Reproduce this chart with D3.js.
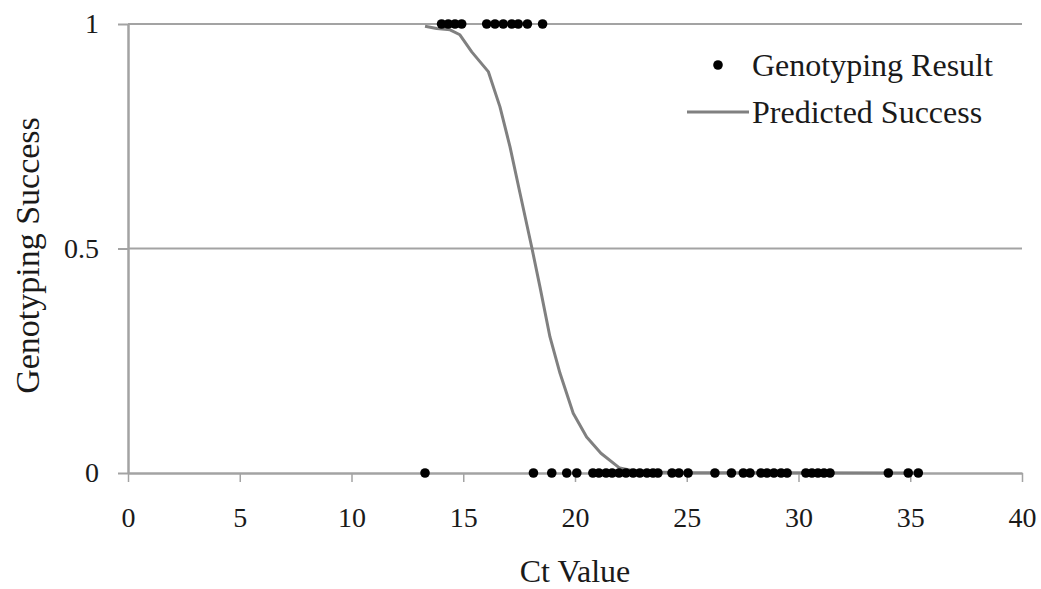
<!DOCTYPE html>
<html>
<head>
<meta charset="utf-8">
<script src="https://cdn.jsdelivr.net/npm/d3@7"></script>
<style>
  body { margin: 0; background: #fff; }
  text { font-family: "Liberation Serif", "Times New Roman", serif; fill: #1a1a1a; }
</style>
</head>
<body>
<div id="chart"></div>
<script>
// Ct values of samples that genotyped (result = 1)
const successCt = [14.03, 14.33, 14.63, 14.93, 16.05, 16.42, 16.79, 17.17, 17.46, 17.87, 18.55];

// Ct values of samples that failed (result = 0)
const failCt = [13.29, 18.14, 18.96, 19.63, 20.08, 20.8, 21.07, 21.39, 21.66, 21.97, 22.28, 22.6,
    22.9, 23.22, 23.49, 23.71, 24.34, 24.65, 25.06, 26.26, 27.0, 27.53, 27.83, 28.32, 28.59,
    28.9, 29.22, 29.49, 30.33, 30.6, 30.87, 31.14, 31.41, 34.02, 34.91, 35.36];

// predicted success curve
const curveCt = [13.29, 13.81, 14.41, 14.85, 15.38, 16.12, 16.64, 17.09, 17.54, 18.06, 18.43,
    18.88, 19.33, 19.92, 20.52, 21.16, 22.0, 22.6, 23.5, 25.0, 35.36];
const curveP = [0.995, 0.99, 0.987, 0.976, 0.938, 0.894, 0.816, 0.727, 0.623, 0.504, 0.415,
    0.303, 0.222, 0.133, 0.08, 0.044, 0.011, 0.005, 0.002, 0.0005, 0];

const xTicks = [0, 5, 10, 15, 20, 25, 30, 35, 40];
const yTicks = [0, 0.5, 1];

const W = 1041, H = 589;
const margin = { top: 24, right: 19, bottom: 116, left: 128 },
    width = W - margin.left - margin.right,
    height = H - margin.top - margin.bottom;

const svg = d3.select("#chart")
    .append("svg")
    .attr("width", W)
    .attr("height", H)
    .append("g")
    .attr("transform", `translate(${margin.left}, ${margin.top})`);

const x = d3.scaleLinear().domain([0, 40]).range([0, width]);
const y = d3.scaleLinear().domain([0, 1]).range([height, 0]);

const gridColor = "#a3a3a3";

// horizontal gridlines
svg.append("g")
    .selectAll("line")
    .data(yTicks.filter(d => d > 0))
    .join("line")
    .attr("x1", 0)
    .attr("x2", width)
    .attr("y1", d => y(d))
    .attr("y2", d => y(d))
    .attr("stroke", gridColor)
    .attr("stroke-width", 2);

// x axis
const xAxis = svg.append("g")
    .attr("transform", `translate(0, ${height})`)
    .call(d3.axisBottom(x).tickValues(xTicks).tickSize(9).tickPadding(25).tickSizeOuter(0));
xAxis.select(".domain").attr("stroke", gridColor).attr("stroke-width", 2.5);
xAxis.selectAll(".tick line").attr("stroke", gridColor).attr("stroke-width", 1.5);
xAxis.selectAll("text")
    .attr("font-size", 28)
    .style("font-family", "Liberation Serif, serif")
    .attr("fill", "#1a1a1a");

// y axis
const yAxis = svg.append("g")
    .call(d3.axisLeft(y).tickValues(yTicks).tickFormat(d3.format("")).tickSize(10).tickPadding(19).tickSizeOuter(0));
yAxis.select(".domain").attr("stroke", gridColor).attr("stroke-width", 2.5);
yAxis.selectAll(".tick line").attr("stroke", gridColor).attr("stroke-width", 2);
yAxis.selectAll("text")
    .attr("font-size", 28)
    .style("font-family", "Liberation Serif, serif")
    .attr("fill", "#1a1a1a");

// predicted curve
const line = d3.line()
    .x((d, i) => x(curveCt[i]))
    .y(d => y(d));

svg.append("path")
    .datum(curveP)
    .attr("fill", "none")
    .attr("stroke", "#808080")
    .attr("stroke-width", 3)
    .attr("stroke-linejoin", "round")
    .attr("d", line);

// genotyping results
svg.append("g")
    .selectAll("circle")
    .data(successCt.map(c => [c, 1]).concat(failCt.map(c => [c, 0])))
    .join("circle")
    .attr("cx", d => x(d[0]))
    .attr("cy", d => y(d[1]))
    .attr("r", 4.8)
    .attr("fill", "#000");

// axis titles
svg.append("text")
    .attr("x", x(20))
    .attr("y", height + 109)
    .attr("text-anchor", "middle")
    .attr("font-size", 32)
    .text("Ct Value");

svg.append("text")
    .attr("transform", `translate(${39 - margin.left}, ${y(0.5) + 7}) rotate(-90)`)
    .attr("text-anchor", "middle")
    .attr("font-size", 34)
    .text("Genotyping Success");

// legend
const legend = svg.append("g")
    .attr("transform", `translate(${-margin.left}, ${-margin.top})`);
legend.append("circle")
    .attr("cx", 718).attr("cy", 65).attr("r", 4.8).attr("fill", "#000");
legend.append("text")
    .attr("x", 752).attr("y", 76).attr("font-size", 32)
    .text("Genotyping Result");
legend.append("line")
    .attr("x1", 687).attr("x2", 749).attr("y1", 112).attr("y2", 112)
    .attr("stroke", "#808080").attr("stroke-width", 3);
legend.append("text")
    .attr("x", 752).attr("y", 123).attr("font-size", 32)
    .text("Predicted Success");
</script>
</body>
</html>
